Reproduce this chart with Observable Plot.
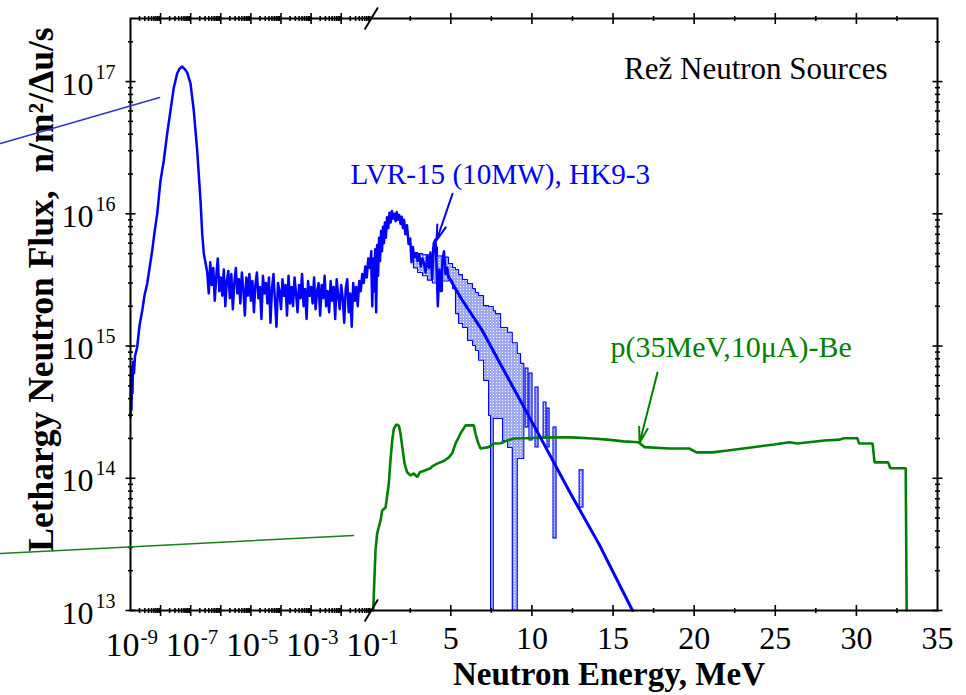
<!DOCTYPE html>
<html><head><meta charset="utf-8">
<script src="https://cdn.jsdelivr.net/npm/d3@7"></script>
<script src="https://cdn.jsdelivr.net/npm/@observablehq/plot@0.6"></script>
<style>body{margin:0;background:#fff}</style>
</head><body><div id="chart"></div>
<script>
// ---------- DATA ----------
// LVR-15 thermal peak (log10 of energy in MeV, flux n/m2/Δu/s)
const thermalLogE = [-9.000,-8.985,-8.967,-8.950,-8.934,-8.915,-8.884,-8.850,-8.777,-8.700,-8.611,-8.535,-8.445,-8.369,-8.279,-8.203,-8.113,-8.003,-7.894,-7.781,-7.671,-7.561,-7.449,-7.372,-7.282,-7.206,-7.116,-7.007,-6.897,-6.784,-6.674,-6.618,-6.565,-6.508];
const thermalFlux = [2.9e14,5.6e14,3.3e14,6.8e14,4.4e14,7.6e14,6.2e14,8.4e14,9.8e14,1.43e15,1.85e15,2.41e15,2.97e15,3.86e15,5.27e15,7.2e15,1.0e16,1.78e16,2.53e16,4.05e16,6.04e16,9.0e16,1.15e17,1.25e17,1.30e17,1.25e17,1.17e17,9.7e16,6.0e16,3.0e16,1.26e16,7.1e15,5.0e15,4.27e15];
// LVR-15 epithermal plateau (log10 E in MeV, flux in 1e15 units)
const epiLogE = [-6.45,-6.40,-6.35,-6.30,-6.25,-6.20,-6.15,-6.10,-6.05,-6.00,
-5.95,-5.90,-5.85,-5.80,-5.75,-5.70,-5.65,-5.60,-5.55,-5.50,
-5.45,-5.40,-5.35,-5.30,-5.25,-5.20,-5.15,-5.10,-5.05,-5.00,
-4.95,-4.90,-4.85,-4.80,-4.75,-4.70,-4.65,-4.60,-4.55,-4.50,
-4.45,-4.40,-4.35,-4.30,-4.25,-4.20,-4.15,-4.10,-4.05,-4.00,
-3.95,-3.90,-3.85,-3.80,-3.75,-3.70,-3.65,-3.60,-3.55,-3.50,
-3.45,-3.40,-3.35,-3.30,-3.25,-3.20,-3.15,-3.10,-3.05,-3.00,
-2.95,-2.90,-2.85,-2.80,-2.75,-2.70,-2.65,-2.60,-2.55,-2.50,
-2.45,-2.40,-2.35,-2.30,-2.25,-2.20,-2.15,-2.10,-2.05,-2.00,
-1.95,-1.90,-1.85,-1.80,-1.75,-1.70,-1.65,-1.60,-1.55,-1.50,
-1.45,-1.40,-1.35,-1.30,-1.25,-1.20,-1.15,-1.10,-1.05,-1.00];
const epiFlux15 = [3.6,2.5,4.3,2.9,3.9,2.2,3.4,4.6,2.6,3.3,
2.4,3.8,2.0,3.1,3.7,2.3,3.5,1.9,3.0,3.9,
2.5,3.2,2.1,3.6,2.7,1.7,3.3,2.4,3.5,2.2,
3.1,1.8,2.9,3.6,2.3,2.8,1.6,3.4,2.5,3.0,
2.1,3.3,1.5,2.7,3.5,2.2,1.4,3.0,2.6,1.9,
3.2,2.4,2.9,1.7,3.4,2.1,2.8,2.0,3.3,2.5,
1.8,2.9,2.3,3.5,2.0,2.7,1.6,3.1,2.4,2.8,
2.1,3.3,1.9,2.6,3.0,1.7,2.9,2.3,3.4,2.0,
2.6,1.8,3.1,2.2,2.8,1.6,3.2,2.4,1.9,2.9,
2.3,1.5,2.7,3.2,1.8,2.5,1.4,3.0,2.2,2.8,
2.0,3.1,2.6,3.5,3.0,4.0,3.3,4.6,3.9,5.2];
// LVR-15 fast region, measured (E in MeV, flux in 1e15 units)
const fastE = [0.10,0.16,0.22,0.28,0.34,0.40,0.46,0.52,0.58,0.64,0.70,0.76,0.82,0.88,0.94,1.00,1.07,1.15,1.22,1.30,1.37,1.45,1.52,1.60,1.67,1.75,1.82,1.90,1.97,2.05,2.12,2.20,2.30,2.40,2.50,2.58,2.66,2.75,2.85,2.95,3.05,3.15,3.25,3.35,3.45,3.55,3.65,3.75,3.85,3.95,4.05,4.12,4.20,4.30,4.40,4.50,4.58,4.68,4.78,4.86];
const fastFlux15 = [4.2,2.0,4.6,2.6,5.4,1.8,5.8,3.4,6.6,4.4,7.4,5.2,8.0,6.0,8.6,6.6,9.4,7.8,10.2,8.6,10.5,9.2,10.0,8.8,10.3,9.0,9.8,8.4,9.5,7.8,9.0,7.0,8.2,5.9,6.5,4.3,5.6,4.7,5.0,4.4,4.9,4.0,4.6,4.2,3.6,4.8,3.9,5.1,3.2,6.0,6.4,4.2,2.0,3.8,2.6,4.6,5.2,3.5,3.9,3.3];
// LVR-15 smooth fast-spectrum curve
const fitE = [4.86,5.60,6.94,8.68,10.53,12.38,14.13,16.20];
const fitFlux = [3.36e15,2.33e15,1.31e15,5.30e14,2.03e14,7.67e13,3.19e13,1.0e13];
// LVR-15 uncertainty band bins
const bandE0 = [2.70,2.95,3.26,3.56,3.87,4.18,4.49,4.86,5.11,5.29,5.48,5.72,6.03,6.34,6.52,6.71,7.02,7.33,7.45,7.62,7.76,8.07,8.19,8.50,8.79,9.10,9.30];
const bandE1 = [2.95,3.26,3.56,3.87,4.18,4.49,4.86,5.11,5.29,5.48,5.72,6.03,6.34,6.52,6.71,7.02,7.33,7.45,7.62,7.76,8.07,8.19,8.50,8.79,9.10,9.30,9.50];
const bandLo = [3.9e15,3.6e15,3.4e15,3.15e15,3.0e15,2.6e15,3.1e15,3.13e15,2.72e15,1.76e15,1.48e15,1.38e15,1.10e15,1.01e15,9.25e14,7.8e14,5.5e14,2.98e14,1e13,2.83e14,2.83e14,2.83e14,1.93e14,1.71e14,1e13,1.41e14,1.41e14];
const bandHi = [5.1e15,5.0e15,4.9e15,4.9e15,5.6e15,4.8e15,4.7e15,4.21e15,3.93e15,3.79e15,3.47e15,3.19e15,2.97e15,2.72e15,2.54e15,2.41e15,2.02e15,1.99e15,1.99e15,1.85e15,1.76e15,1.38e15,1.38e15,1.27e15,1.06e15,8.78e14,7.4e14];
// LVR-15 isolated high-energy bins
const barE0 = [9.61,9.85,10.22,10.72,10.96,11.33,12.94];
const barE1 = [9.79,10.04,10.41,10.90,11.09,11.52,13.18];
const barLo = [2.42e14,1.93e14,1.71e14,2.03e14,1.71e14,3.50e13,6.0e13];
const barHi = [6.76e14,6.20e14,4.86e14,3.74e14,3.37e14,2.42e14,1.15e14];
// p(35MeV,10µA)-Be source
const beE = [0.217,0.36,0.46,0.67,0.77,0.98,1.04,1.18,1.28,1.39,1.49,1.65,1.80,1.90,2.01,2.15,2.31,2.52,2.72,2.93,3.09,3.44,3.75,3.85,4.16,4.57,4.88,5.09,5.29,5.60,5.91,6.42,6.52,6.67,6.83,7.33,7.65,8.07,8.48,8.89,9.48,11.33,12.30,12.75,13.74,14.66,15.65,16.57,16.94,18.48,19.69,20.15,21.12,22.06,23.03,23.97,24.93,25.88,26.36,27.05,28.04,28.97,29.21,30.06,30.17,31.00,31.12,31.96,32.09,33.04,33.10];
const beFlux = [1.0e13,2.85e13,3.82e13,4.80e13,5.70e13,6.01e13,6.79e13,9.13e13,1.36e14,1.93e14,2.38e14,2.55e14,2.50e14,2.18e14,1.72e14,1.29e14,1.11e14,1.05e14,1.09e14,1.02e14,1.11e14,1.15e14,1.19e14,1.23e14,1.29e14,1.35e14,1.44e14,1.55e14,1.83e14,2.18e14,2.51e14,2.51e14,2.18e14,1.88e14,1.68e14,1.72e14,1.83e14,1.84e14,1.93e14,2.00e14,2.01e14,2.04e14,2.04e14,2.03e14,2.00e14,1.96e14,1.90e14,1.87e14,1.72e14,1.68e14,1.68e14,1.57e14,1.57e14,1.62e14,1.68e14,1.74e14,1.80e14,1.87e14,1.83e14,1.87e14,1.93e14,1.96e14,2.01e14,2.01e14,1.83e14,1.83e14,1.32e14,1.32e14,1.19e14,1.19e14,1.0e13];
// annotation arrows (E in MeV, flux)
const lvrArrowE = [5.11,4.12], lvrArrowFlux = [1.42e16,6.28e15];
const beArrowE = [17.74,16.64], beArrowFlux = [6.31e14,1.86e14];
// stray leader lines in the original figure
const strayBlueE = [4.8e-14,9.2e-9], strayBlueFlux = [3.40e16,7.57e16];
const strayGreenE = [4.8e-14,0.0256], strayGreenFlux = [2.70e13,3.69e13];
// axis ticks
const yExps = [13,14,15,16,17];
const logExps = [-9,-8,-7,-6,-5,-4,-3,-2];
const logLabelExps = [-9,-7,-5,-3,-1];
const minorMult = [2,3,4,5,6,7,8,9];
const linMajor = [5,10,15,20,25,30];
const linMinor = [2.5,7.5,12.5,17.5,22.5,27.5,32.5];
const linLabels = [5,10,15,20,25,30,35];

// ---------- BROKEN X SCALE: log up to 0.1 MeV, linear above ----------
const K = 0.539;
const toU = E => E <= 0.1 ? Math.log10(E) : -1 + (E - 0.1) * K;

const blueRows = [
  ...thermalLogE.map((l, i) => ({E: 10 ** l, F: thermalFlux[i]})),
  ...epiLogE.map((l, i) => ({E: 10 ** l, F: epiFlux15[i] * 1e15})),
  ...fastE.map((e, i) => ({E: e, F: fastFlux15[i] * 1e15}))
];
const fitRows = fitE.map((e, i) => ({E: e, F: fitFlux[i]}));
const bandRows = bandE0.map((e, i) => ({e0: e, e1: bandE1[i], lo: bandLo[i], hi: bandHi[i]}));
const bandOutline = [];
bandRows.forEach(b => { bandOutline.push({E: b.e0, F: b.hi}, {E: b.e1, F: b.hi}); });
[...bandRows].reverse().forEach(b => { bandOutline.push({E: b.e1, F: b.lo}, {E: b.e0, F: b.lo}); });
bandOutline.push(bandOutline[0]);
const barRows = barE0.map((e, i) => ({e0: e, e1: barE1[i], lo: barLo[i], hi: barHi[i]}));
const beRows = beE.map((e, i) => ({E: e, F: beFlux[i]}));

const yMinor = [];
for (const n of [13,14,15,16]) for (const m of minorMult) yMinor.push(m * 10 ** n);
yMinor.push(2e17);
const xMinorLog = [];
for (const n of logExps) for (const m of minorMult) xMinorLog.push(n + Math.log10(m));
const xMajorU = [...logExps.slice(1), ...linMajor.map(toU)];
const xMinorU = [...xMinorLog, ...linMinor.map(toU)];

const serif = "Liberation Serif, Times New Roman, serif";
const BLUE = "#0000ff", GREEN = "#008000";
const line = {draw(c, l) { c.moveTo(0, 0); c.lineTo(0, -l); }};
const tk = {shape: line, stroke: "black", strokeWidth: 1.6, strokeLinecap: "butt"};

const svg = Plot.plot({
  width: 966, height: 695,
  marginLeft: 130, marginRight: 29, marginTop: 18, marginBottom: 85,
  x: {domain: [-9, toU(35)], axis: null},
  y: {type: "log", domain: [1e13, 3e17], axis: null},
  style: {fontFamily: serif, background: "white"},
  marks: [
    // band
    Plot.rect(bandRows, {x1: d => toU(d.e0), x2: d => toU(d.e1), y1: "lo", y2: "hi", fill: "url(#lvrDots)"}),
    Plot.line(bandOutline, {x: d => toU(d.E), y: "F", stroke: BLUE, strokeWidth: 1.1, strokeLinejoin: "miter"}),
    Plot.rect(barRows, {x1: d => toU(d.e0), x2: d => toU(d.e1), y1: "lo", y2: "hi", fill: "url(#lvrDots)", stroke: BLUE, strokeWidth: 1.1}),
    // green source
    Plot.line(beRows, {x: d => toU(d.E), y: "F", stroke: GREEN, strokeWidth: 2.6, strokeLinejoin: "miter"}),
    // blue spectrum
    Plot.line(blueRows, {x: d => toU(d.E), y: "F", stroke: BLUE, strokeWidth: 2.5}),
    Plot.line(fitRows, {x: d => toU(d.E), y: "F", stroke: BLUE, strokeWidth: 3}),
    // frame & ticks
    Plot.frame({stroke: "black", strokeWidth: 2}),
    Plot.vector(yExps.map(n => 10 ** n), {y: d => d, frameAnchor: "left", rotate: 90, length: 10, ...tk}),
    Plot.vector(yMinor, {y: d => d, frameAnchor: "left", rotate: 90, length: 5, ...tk}),
    Plot.vector(yExps.map(n => 10 ** n), {y: d => d, frameAnchor: "right", rotate: -90, length: 10, ...tk}),
    Plot.vector(yMinor, {y: d => d, frameAnchor: "right", rotate: -90, length: 5, ...tk}),
    Plot.vector(xMajorU, {x: d => d, frameAnchor: "bottom", rotate: 0, length: 11, ...tk}),
    Plot.vector(xMinorU, {x: d => d, frameAnchor: "bottom", rotate: 0, length: 5, ...tk}),
    Plot.vector(xMajorU, {x: d => d, frameAnchor: "top", rotate: 180, length: 11, ...tk}),
    Plot.vector(xMinorU, {x: d => d, frameAnchor: "top", rotate: 180, length: 5, ...tk}),
    // axis break marks
    Plot.vector([-1], {x: d => d, frameAnchor: "bottom", rotate: 31, length: 24, anchor: "middle", shape: line, stroke: "black", strokeWidth: 2}),
    Plot.vector([-1], {x: d => d, frameAnchor: "top", rotate: 31, length: 24, anchor: "middle", shape: line, stroke: "black", strokeWidth: 2}),
    // y tick labels
    Plot.text(yExps, {y: d => 10 ** d, frameAnchor: "left", text: () => "10", textAnchor: "end", dx: -37, dy: 13, lineAnchor: "bottom", fontSize: 32}),
    Plot.text(yExps, {y: d => 10 ** d, frameAnchor: "left", text: d => String(d), textAnchor: "start", dx: -35, dy: -3, lineAnchor: "bottom", fontSize: 20}),
    // x tick labels
    Plot.text(logLabelExps, {x: d => d, frameAnchor: "bottom", text: () => "10", textAnchor: "end", dx: 9, dy: 45, lineAnchor: "bottom", fontSize: 34}),
    Plot.text(logLabelExps, {x: d => d, frameAnchor: "bottom", text: d => String(d), textAnchor: "start", dx: 10, dy: 33, lineAnchor: "bottom", fontSize: 21}),
    Plot.text(linLabels, {x: d => toU(d), frameAnchor: "bottom", text: d => String(d), textAnchor: "middle", dy: 38, lineAnchor: "bottom", fontSize: 32}),
    // axis titles
    Plot.text(["Neutron Energy, MeV"], {frameAnchor: "bottom", text: d => d, textAnchor: "middle", dx: 75, dy: 74, lineAnchor: "bottom", fontSize: 33, fontWeight: "bold"}),
    Plot.text(["Lethargy Neutron Flux,\u00a0 n/m\u00b2/\u0394u/s"], {frameAnchor: "left", text: d => d, textAnchor: "middle", rotate: -90, dx: -78, dy: -25, lineAnchor: "bottom", fontSize: 35.5, fontWeight: "bold"}),
    // annotations
    Plot.text(["Re\u017e Neutron Sources"], {frameAnchor: "top-right", text: d => d, textAnchor: "end", dx: -50, dy: 60, lineAnchor: "bottom", fontSize: 31}),
    Plot.text(["LVR-15 (10MW), HK9-3"], {frameAnchor: "top-left", text: d => d, textAnchor: "start", dx: 220, dy: 165, lineAnchor: "bottom", fontSize: 29.2, fill: BLUE}),
    Plot.text(["p(35MeV,10\u03bcA)-Be"], {frameAnchor: "top-left", text: d => d, textAnchor: "start", dx: 480, dy: 338, lineAnchor: "bottom", fontSize: 30, fill: GREEN}),
    Plot.arrow([0], {x1: () => toU(lvrArrowE[0]), y1: () => lvrArrowFlux[0], x2: () => toU(lvrArrowE[1]), y2: () => lvrArrowFlux[1], stroke: BLUE, strokeWidth: 2, headLength: 12, headAngle: 32}),
    Plot.arrow([0], {x1: () => toU(beArrowE[0]), y1: () => beArrowFlux[0], x2: () => toU(beArrowE[1]), y2: () => beArrowFlux[1], stroke: GREEN, strokeWidth: 2, headLength: 12, headAngle: 32}),
    // stray leader lines
    Plot.line(strayBlueE.map((e, i) => ({E: e, F: strayBlueFlux[i]})), {x: d => toU(d.E), y: "F", stroke: "#3333cc", strokeWidth: 1.5}),
    Plot.line(strayGreenE.map((e, i) => ({E: e, F: strayGreenFlux[i]})), {x: d => toU(d.E), y: "F", stroke: "#1a801a", strokeWidth: 1.5})
  ]
});
const ns = "http://www.w3.org/2000/svg";
const defs = document.createElementNS(ns, "defs");
defs.innerHTML = '<pattern id="lvrDots" width="3" height="3" patternUnits="userSpaceOnUse"><rect width="3" height="3" fill="#9ea8f0"/><rect x="1" y="1" width="1" height="1" fill="#ffffff"/></pattern>';
svg.insertBefore(defs, svg.firstChild);
document.getElementById("chart").appendChild(svg);
</script>
</body></html>
